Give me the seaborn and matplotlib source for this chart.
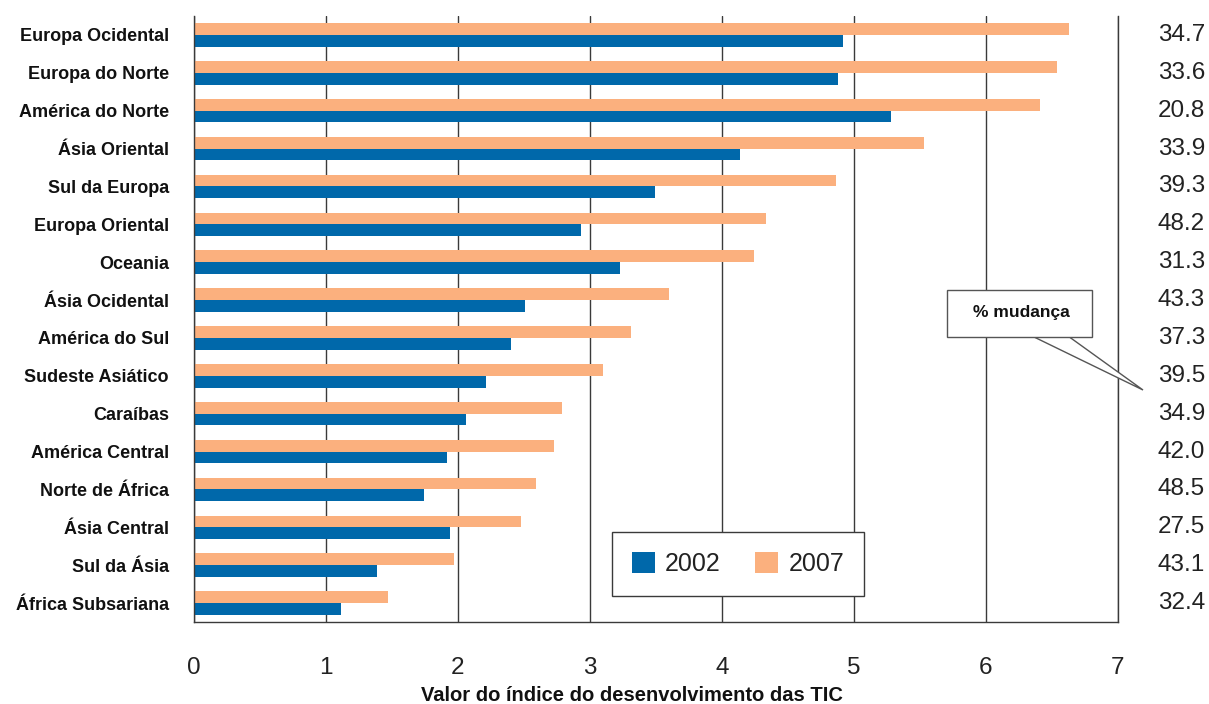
import matplotlib
matplotlib.use("Agg")
import matplotlib.pyplot as plt
from matplotlib.patches import Polygon, Rectangle, Patch
import seaborn as sns
import pandas as pd

regions = [
    "Europa Ocidental", "Europa do Norte", "América do Norte", "Ásia Oriental",
    "Sul da Europa", "Europa Oriental", "Oceania", "Ásia Ocidental",
    "América do Sul", "Sudeste Asiático", "Caraíbas", "América Central",
    "Norte de África", "Ásia Central", "Sul da Ásia", "África Subsariana",
]
idi_2002 = [4.92, 4.88, 5.28, 4.14, 3.49, 2.93, 3.23, 2.51,
            2.40, 2.21, 2.06, 1.92, 1.74, 1.94, 1.39, 1.11]
idi_2007 = [6.63, 6.54, 6.41, 5.53, 4.86, 4.33, 4.24, 3.60,
            3.31, 3.10, 2.79, 2.73, 2.59, 2.48, 1.97, 1.47]
pct_change = ["34.7", "33.6", "20.8", "33.9", "39.3", "48.2", "31.3", "43.3",
              "37.3", "39.5", "34.9", "42.0", "48.5", "27.5", "43.1", "32.4"]
x_ticks = [0, 1, 2, 3, 4, 5, 6, 7]

BLUE = "#0068AA"
ORANGE = "#FBB07E"
LINE = "#3a3a3a"

df = pd.DataFrame({
    "region": regions * 2,
    "value": idi_2002 + idi_2007,
    "year": ["2002"] * len(regions) + ["2007"] * len(regions),
})

sns.set_theme(style="white")
plt.rcParams["font.family"] = ["Liberation Sans", "DejaVu Sans"]

fig = plt.figure(figsize=(12.09, 7.04), dpi=100)
ax = fig.add_axes([194 / 1209, 1 - 622 / 704, 924 / 1209, 606 / 704])

sns.barplot(
    data=df, x="value", y="region", hue="year", orient="h",
    order=regions, hue_order=["2007", "2002"],
    palette={"2002": BLUE, "2007": ORANGE},
    saturation=1, width=0.62, linewidth=0, legend=False, ax=ax,
)

ax.set_xlim(0, 7)
ax.set_ylim(len(regions) - 0.5, -0.5)
ax.set_xticks(x_ticks)
ax.set_xticklabels([str(t) for t in x_ticks], fontsize=17.5, color="#222222")
ax.tick_params(axis="x", direction="out", length=9, width=1, color=LINE, pad=16)

# category labels at band centres, tick marks at band boundaries
ax.set_yticks(range(len(regions)))
ax.set_yticklabels(regions, fontsize=13, fontweight="bold", color="#111111")
ax.tick_params(axis="y", which="major", length=0, pad=18)
ax.set_yticks([i - 0.5 for i in range(len(regions) + 1)], minor=True)
ax.tick_params(axis="y", which="minor", direction="out", length=6, width=1, color=LINE)

ax.set_ylabel("")
ax.set_xlabel("Valor do índice do desenvolvimento das TIC",
              fontsize=14.5, fontweight="bold", color="#111111")
ax.xaxis.set_label_coords(0.474, -0.106)

ax.grid(axis="x", color=LINE, linewidth=1)
ax.grid(axis="y", visible=False)
ax.set_axisbelow(True)
for side in ("left", "bottom", "right"):
    ax.spines[side].set_visible(True)
    ax.spines[side].set_color(LINE)
    ax.spines[side].set_linewidth(1)
ax.spines["top"].set_visible(False)

# percentage change column
for i, txt in enumerate(pct_change):
    ax.text(1.094, i, txt, transform=ax.get_yaxis_transform(),
            ha="right", va="center", fontsize=17.5, color="#222222")

# legend
handles = [Patch(facecolor=BLUE, edgecolor="none", label="2002"),
           Patch(facecolor=ORANGE, edgecolor="none", label="2007")]
leg = ax.legend(handles=handles, ncol=2, loc="lower left",
                bbox_to_anchor=(0.452, 0.043), borderaxespad=0,
                fontsize=18, handlelength=0.92, handleheight=0.92,
                handletextpad=0.4, columnspacing=1.4, borderpad=0.8,
                frameon=True, fancybox=False, framealpha=1)
leg.get_frame().set_edgecolor(LINE)
leg.get_frame().set_linewidth(1)
for t in leg.get_texts():
    t.set_color("#222222")

# "% mudança" callout pointing to the percentage column
W, H = 1209, 704
def fp(x, y):
    return (x / W, 1 - y / H)

pointer = Polygon([fp(1032, 336), fp(1068, 336), fp(1143, 390)], closed=True,
                  transform=fig.transFigure, facecolor="white", edgecolor="#555555",
                  linewidth=1, zorder=10)
fig.add_artist(pointer)
x0, y0 = fp(947, 337)
x1, y1 = fp(1092, 290)
box = Rectangle((x0, y0), x1 - x0, y1 - y0, transform=fig.transFigure,
                facecolor="white", edgecolor="#555555", linewidth=1, zorder=11)
fig.add_artist(box)
cx, cy = fp(1021, 313)
fig.text(cx, cy, "% mudança", ha="center", va="center", fontsize=12.5,
         fontweight="bold", color="#111111", zorder=12)

fig.savefig("out.png", dpi=100)
